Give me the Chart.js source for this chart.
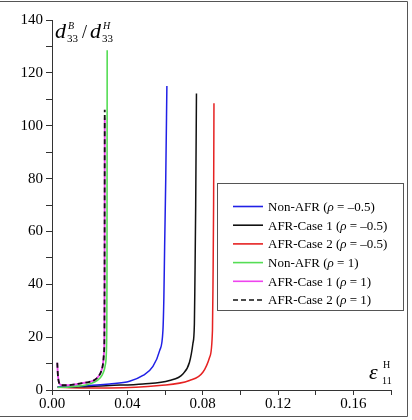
<!DOCTYPE html>
<html>
<head>
<meta charset="utf-8">
<script src="https://cdn.jsdelivr.net/npm/chart.js@4.4.1/dist/chart.umd.min.js"></script>
<style>
  html, body { margin: 0; padding: 0; background: #fff; }
  #wrap { position: relative; width: 412px; height: 420px; }
  canvas { position: absolute; left: 0; top: 0; }
</style>
</head>
<body>
<div id="wrap"><canvas id="c" width="412" height="420"></canvas></div>
<script>
// ---- data ----
const xTicks = [0, 0.04, 0.08, 0.12, 0.16];
const yTicks = [0, 20, 40, 60, 80, 100, 120, 140];

const seriesLabels = [
  'Non-AFR (ρ = –0.5)',
  'AFR-Case 1 (ρ = –0.5)',
  'AFR-Case 2 (ρ = –0.5)',
  'Non-AFR (ρ = 1)',
  'AFR-Case 1 (ρ = 1)',
  'AFR-Case 2 (ρ = 1)'
];

const blueX  = [0.003, 0.015, 0.0306, 0.0412, 0.0483, 0.0536, 0.0572, 0.0589, 0.0594, 0.0598, 0.0604, 0.061];
const blueY  = [1.2, 1.5, 2.3, 3.3, 5.5, 8.9, 15, 22.5, 35, 54, 80, 115];

const blackX = [0.003, 0.015, 0.0306, 0.0483, 0.0624, 0.0695, 0.073, 0.0748, 0.0756, 0.0759, 0.0763, 0.0767];
const blackY = [1.1, 1.2, 1.7, 2.3, 3.6, 6.1, 10.5, 17.5, 25, 42, 70, 112.2];

const redX   = [0.003, 0.015, 0.0306, 0.057, 0.073, 0.0801, 0.0837, 0.0852, 0.0855, 0.0858, 0.086];
const redY   = [1.0, 0.8, 0.8, 1.7, 3.6, 6.7, 12.4, 22.5, 41.5, 70, 108.5];

const greenX = [0.003, 0.008, 0.013, 0.018, 0.0226, 0.0255, 0.0272, 0.0283, 0.0289, 0.0291, 0.0292, 0.0293];
const greenY = [1.0, 1.1, 1.4, 1.9, 3.0, 4.5, 6.5, 9.5, 15, 25, 45, 128.6];

const magX   = [0.0028, 0.0031, 0.0035, 0.004, 0.005, 0.008, 0.012, 0.016, 0.02, 0.0226, 0.0245, 0.0261, 0.0271, 0.0276, 0.0278, 0.0279, 0.028];
const magY   = [10.3, 6, 3.5, 2.3, 1.8, 1.8, 2.1, 2.6, 3.1, 3.8, 5, 7, 10, 14, 19, 40, 103];

const dashX  = [0.0028, 0.0031, 0.0035, 0.004, 0.005, 0.008, 0.012, 0.016, 0.02, 0.0226, 0.0245, 0.0261, 0.0271, 0.0276, 0.0278, 0.0279, 0.028];
const dashY  = [10.3, 6, 3.5, 2.3, 1.8, 1.8, 2.1, 2.6, 3.1, 3.8, 5, 7, 10, 14, 19, 40, 106];

function pts(xs, ys) { return xs.map((x, i) => ({ x: x, y: ys[i] })); }

const styles = [
  { color: '#2020e6', dash: [], width: 1.5, order: 3 },
  { color: '#111111', dash: [], width: 1.5, order: 3 },
  { color: '#e62222', dash: [], width: 1.5, order: 3 },
  { color: '#55dd55', dash: [], width: 1.6, order: 2 },
  { color: '#ee44ee', dash: [], width: 1.8, order: 1 },
  { color: '#111111', dash: [5, 3], width: 1.8, order: 0 }
];
const seriesData = [pts(blueX, blueY), pts(blackX, blackY), pts(redX, redY),
                    pts(greenX, greenY), pts(magX, magY), pts(dashX, dashY)];

const SERIF = "'Liberation Serif', 'Times New Roman', serif";

const decorPlugin = {
  id: 'decor',
  afterDraw(chart) {
    const ctx = chart.ctx;
    ctx.save();
    // outer frame (top, right, bottom)
    ctx.strokeStyle = '#555';
    ctx.lineWidth = 1;
    ctx.beginPath();
    ctx.moveTo(0, 1.5); ctx.lineTo(407.5, 1.5); ctx.lineTo(407.5, 416.5); ctx.lineTo(0, 416.5);
    ctx.stroke();

    // y-axis title  d33^B / d33^H
    ctx.fillStyle = '#000';
    ctx.textBaseline = 'alphabetic';
    ctx.textAlign = 'left';
    const base = 38;
    ctx.font = 'italic 22px ' + SERIF;
    ctx.fillText('d', 55, base);
    ctx.font = '11px ' + SERIF;
    ctx.fillText('33', 67, base + 4);
    ctx.font = 'italic 10px ' + SERIF;
    ctx.fillText('B', 68, base - 9);
    ctx.font = '18px ' + SERIF;
    ctx.fillText('/', 82, base);
    ctx.font = 'italic 22px ' + SERIF;
    ctx.fillText('d', 90, base);
    ctx.font = '11px ' + SERIF;
    ctx.fillText('33', 102, base + 4);
    ctx.font = 'italic 10px ' + SERIF;
    ctx.fillText('H', 103, base - 9);

    // x-axis title  ε11^H
    ctx.font = 'italic 22px ' + SERIF;
    ctx.fillText('ε', 369, 379);
    ctx.font = '10px ' + SERIF;
    ctx.fillText('11', 382, 384);
    ctx.fillText('H', 383, 368);

    // legend
    const lx = 217.5, ly = 183.5, lw = 186, lh = 127;
    ctx.fillStyle = '#fff';
    ctx.fillRect(lx, ly, lw, lh);
    ctx.strokeStyle = '#555';
    ctx.lineWidth = 1;
    ctx.strokeRect(lx, ly, lw, lh);
    ctx.textBaseline = 'middle';
    chart.data.datasets.forEach((ds, i) => {
      const y = 206.5 + i * 18.7;
      ctx.strokeStyle = ds.borderColor;
      ctx.lineWidth = 1.6;
      ctx.setLineDash(ds.borderDash || []);
      ctx.beginPath();
      ctx.moveTo(233, y); ctx.lineTo(263, y);
      ctx.stroke();
      ctx.setLineDash([]);
      ctx.fillStyle = '#000';
      const parts = ds.label.split('ρ');
      let x = 268;
      ctx.font = '13px ' + SERIF;
      ctx.fillText(parts[0], x, y + 1);
      x += ctx.measureText(parts[0]).width;
      ctx.font = 'italic 13px ' + SERIF;
      ctx.fillText('ρ', x, y + 1);
      x += ctx.measureText('ρ').width;
      ctx.font = '13px ' + SERIF;
      ctx.fillText(parts[1], x, y + 1);
    });
    ctx.restore();
  }
};

new Chart(document.getElementById('c'), {
  type: 'scatter',
  data: {
    datasets: seriesData.map((d, i) => ({
      label: seriesLabels[i],
      data: d,
      showLine: true,
      borderColor: styles[i].color,
      backgroundColor: styles[i].color,
      borderWidth: styles[i].width,
      borderDash: styles[i].dash,
      order: styles[i].order,
      pointRadius: 0,
      cubicInterpolationMode: 'monotone',
      fill: false
    }))
  },
  options: {
    responsive: false,
    animation: false,
    devicePixelRatio: 1,
    layout: { padding: { left: 0, right: 21, top: 20, bottom: 0 } },
    plugins: { legend: { display: false }, tooltip: { enabled: false } },
    scales: {
      x: {
        type: 'linear', min: 0, max: 0.18,
        afterFit(s) { s.height = 30; },
        afterBuildTicks(s) { s.ticks = [0,0.02,0.04,0.06,0.08,0.10,0.12,0.14,0.16,0.18].map(v => ({ value: v })); },
        ticks: {
          autoSkip: false, maxRotation: 0, padding: 0,
          color: '#000',
          font: { family: SERIF, size: 15 },
          callback(v) {
            const hit = xTicks.find(t => Math.abs(t - v) < 1e-9);
            return hit === undefined ? '' : hit.toFixed(2);
          }
        },
        grid: { drawOnChartArea: false, tickLength: 5, color: '#333' },
        border: { color: '#333', width: 1 }
      },
      y: {
        type: 'linear', min: 0, max: 140,
        afterFit(s) { s.width = 52; },
        afterBuildTicks(s) { const a = []; for (let v = 0; v <= 140; v += 10) a.push({ value: v }); s.ticks = a; },
        ticks: {
          autoSkip: false, padding: 3,
          color: '#000',
          font: { family: SERIF, size: 15 },
          callback(v) { return yTicks.includes(v) ? String(v) : ''; }
        },
        grid: { drawOnChartArea: false, tickLength: 6, color: '#333' },
        border: { color: '#333', width: 1 }
      }
    }
  },
  plugins: [decorPlugin]
});
</script>
</body>
</html>
